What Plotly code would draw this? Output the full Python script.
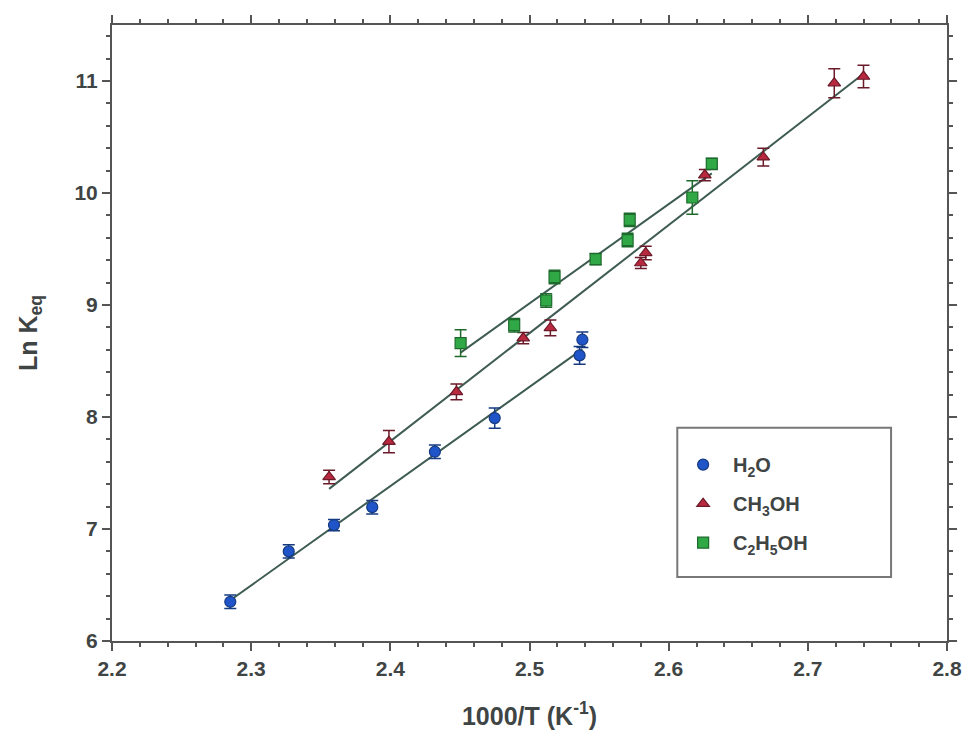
import numpy as np
import plotly.graph_objects as go

# H2O
h2o_x = [2.285, 2.327, 2.3595, 2.387, 2.432, 2.475, 2.536, 2.538]
h2o_y = [6.35, 6.80, 7.035, 7.195, 7.69, 7.99, 8.55, 8.69]
h2o_err = [0.06, 0.06, 0.05, 0.06, 0.06, 0.09, 0.08, 0.07]

# CH3OH
meoh_x = [2.356, 2.399, 2.4475, 2.4955, 2.515, 2.580, 2.5835, 2.626, 2.668, 2.719, 2.740]
meoh_y = [7.465, 7.78, 8.225, 8.705, 8.795, 9.375, 9.465, 10.16, 10.32, 10.98, 11.04]
meoh_err = [0.06, 0.1, 0.07, 0.05, 0.07, 0.05, 0.06, 0.05, 0.08, 0.13, 0.1]

# C2H5OH
etoh_x = [2.4505, 2.489, 2.512, 2.518, 2.5475, 2.5705, 2.572, 2.617, 2.631]
etoh_y = [8.66, 8.82, 9.04, 9.25, 9.41, 9.58, 9.76, 9.96, 10.26]
etoh_err = [0.12, 0.06, 0.06, 0.06, 0.05, 0.06, 0.06, 0.15, 0.05]

series = [
    ("H<sub>2</sub>O", h2o_x, h2o_y, h2o_err, "circle", "#1f55c8", "#153a80"),
    ("CH<sub>3</sub>OH", meoh_x, meoh_y, meoh_err, "triangle-up", "#b8283e", "#6a1a28"),
    ("C<sub>2</sub>H<sub>5</sub>OH", etoh_x, etoh_y, etoh_err, "square", "#2fa845", "#1d6a2c"),
]

TXT = "#3f4444"
FONT = "Liberation Sans, Arial"

fig = go.Figure()
line_color = "#3f5c52"
for name, xs, ys, es, sym, col, dark in series:
    k, b = np.polyfit(xs, ys, 1)
    lx = [min(xs), max(xs)]
    fig.add_trace(go.Scatter(x=lx, y=[k * v + b for v in lx], mode="lines",
                             line=dict(color=line_color, width=2), showlegend=False,
                             hoverinfo="skip"))
for i, (name, xs, ys, es, sym, col, dark) in enumerate(series):
    fig.add_trace(go.Scatter(
        x=xs, y=ys, mode="markers", name=name, legendgroup=f"g{i}",
        marker=dict(symbol=sym, size=11, color=col, line=dict(color=dark, width=1.2)),
        error_y=dict(type="data", array=es, visible=True, color=dark, thickness=1.5, width=6),
    ))

axis_common = dict(
    showline=True, linecolor="#555", linewidth=2, mirror="ticks",
    ticks="outside", tickcolor="#555", ticklen=8, tickwidth=1.5,
    showgrid=False, zeroline=False,
    tickfont=dict(family=FONT, size=21, color=TXT, weight="bold"),
)
fig.update_xaxes(range=[2.2, 2.8], tick0=2.2, dtick=0.1,
                 minor=dict(dtick=0.02, ticks="outside", ticklen=4, tickcolor="#555"),
                 title=dict(text="1000/T (K<sup>-1</sup>)", standoff=28,
                            font=dict(family=FONT, size=25, color=TXT, weight="bold")),
                 **axis_common)
fig.update_yaxes(range=[6, 11.5], tick0=6, dtick=1,
                 minor=dict(dtick=0.2, ticks="outside", ticklen=4, tickcolor="#555"),
                 title=dict(text="Ln K<sub>eq</sub>", standoff=30,
                            font=dict(family=FONT, size=25, color=TXT, weight="bold")),
                 **axis_common)

# legend frame
fig.add_shape(type="rect", xref="paper", yref="paper",
              x0=0.677, x1=0.933, y0=0.104, y1=0.346,
              line=dict(color="#777", width=2), fillcolor="white", layer="below")

fig.update_layout(
    width=974, height=751,
    margin=dict(l=112, r=23, t=25, b=110),
    paper_bgcolor="white", plot_bgcolor="white",
    legend=dict(x=0.672, y=0.318, xanchor="left", yanchor="top",
                borderwidth=0, bgcolor="rgba(0,0,0,0)",
                font=dict(family=FONT, size=20, color=TXT, weight="bold"),
                tracegroupgap=10, itemwidth=50),
)

fig.write_html("out.html")
